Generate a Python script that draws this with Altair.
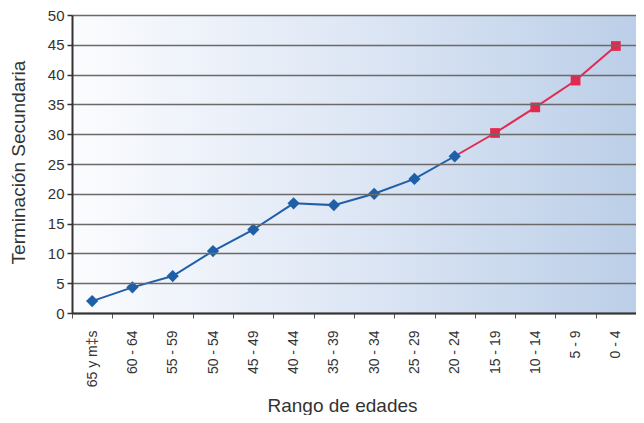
import altair as alt
import pandas as pd

categorias = ["65 y m‡s", "60 - 64", "55 - 59", "50 - 54", "45 - 49", "40 - 44",
              "35 - 39", "30 - 34", "25 - 29", "20 - 24", "15 - 19", "10 - 14",
              "5 - 9", "0 - 4"]
valores = [2.0, 4.3, 6.2, 10.4, 14.0, 18.4, 18.1, 20.0, 22.5, 26.3, 30.2, 34.5, 39.0, 44.8]
n_obs = 10  # first 10 groups observed (blue), remaining projected (red)
y_ticks = [0, 5, 10, 15, 20, 25, 30, 35, 40, 45, 50]

rows = []
for i, (c, v) in enumerate(zip(categorias, valores)):
    if i < n_obs:
        rows.append({"cat": c, "val": v, "serie": "obs", "marker": True})
    if i >= n_obs - 1:
        rows.append({"cat": c, "val": v, "serie": "proy", "marker": i >= n_obs})
df = pd.DataFrame(rows)

BLUE = "#1f5fa8"
RED = "#e2294f"
FONT = "Liberation Sans"

x_enc = alt.X("cat:N", sort=categorias,
              scale=alt.Scale(type="band", paddingInner=0, paddingOuter=0),
              axis=alt.Axis(title="Rango de edades", labelAngle=270, labelAlign="right",
                            labelBaseline="middle", labelFontSize=14, labelPadding=12,
                            tickBand="extent", tickSize=5, tickColor="#555", tickWidth=1,
                            domainColor="#333", domainWidth=2, grid=False,
                            labelColor="#333", titleColor="#333", titleFontSize=19,
                            titleFontWeight="normal", titleX=270, titleY=83,
                            titleFont=FONT, labelFont=FONT, zindex=1))
y_enc = alt.Y("val:Q", scale=alt.Scale(domain=[0, 50], nice=False),
              axis=alt.Axis(title="Terminación Secundaria", values=y_ticks,
                            labelFontSize=15, labelColor="#333", labelPadding=3,
                            tickSize=5, tickColor="#333", tickWidth=1.5,
                            domainColor="#333", domainWidth=2,
                            gridColor="#6a6a6a", gridWidth=1.5,
                            titleFontSize=19, titleFontWeight="normal", titleColor="#333",
                            titleX=-54, titleY=147, titleAngle=270, titleAlign="center",
                            titleBaseline="middle", titleFont=FONT, labelFont=FONT,
                            zindex=1))

color_scale = alt.Scale(domain=["obs", "proy"], range=[BLUE, RED])
shape_scale = alt.Scale(domain=["obs", "proy"], range=["diamond", "square"])
size_scale = alt.Scale(domain=["obs", "proy"], range=[150, 95])

bg = alt.Chart(alt.Data(values=[{"k": 1}])).mark_rect(
    fill=alt.Gradient(gradient="linear",
                      stops=[alt.GradientStop(color="#fbfcfe", offset=0),
                             alt.GradientStop(color="#e1e9f6", offset=0.45),
                             alt.GradientStop(color="#bccfe8", offset=1)],
                      x1=0, x2=1, y1=0, y2=0)
).encode(x=alt.value(0), x2=alt.value("width"), y=alt.value(0), y2=alt.value("height"))

base = alt.Chart(df)
lines = base.mark_line(strokeWidth=2).encode(
    x=x_enc, y=y_enc,
    color=alt.Color("serie:N", scale=color_scale, legend=None),
    detail="serie:N")
points = base.transform_filter("datum.marker").mark_point(filled=True, opacity=1).encode(
    x=x_enc, y=y_enc,
    color=alt.Color("serie:N", scale=color_scale, legend=None),
    shape=alt.Shape("serie:N", scale=shape_scale, legend=None),
    size=alt.Size("serie:N", scale=size_scale, legend=None))

chart = alt.layer(bg, lines, points).properties(
    width=564, height=298,
    autosize=alt.AutoSizeParams(type="none"),
    padding={"left": 64, "top": 7, "right": 0, "bottom": 102},
    background="white"
).configure_view(stroke=None)

chart.save("out.html", embed_options={"renderer": "svg", "actions": False})
